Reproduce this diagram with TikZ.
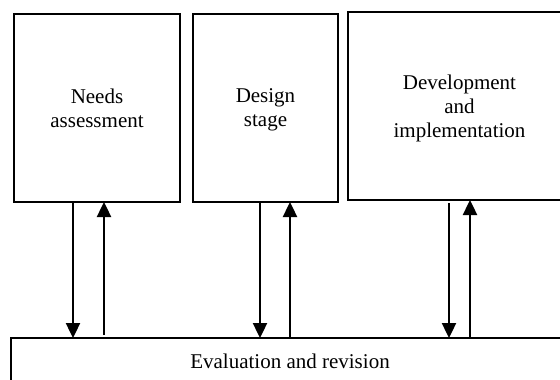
\documentclass[tikz,border=0pt]{standalone}
\usepackage{fontspec}
\setmainfont{Liberation Serif}
\usetikzlibrary{arrows.meta}
\begin{document}
\begin{tikzpicture}[x=1pt,y=-1pt,
  stagebox/.style={draw, line width=1.6pt, anchor=north west, inner sep=0pt, outer sep=0pt,
    align=center, text depth=0pt, font=\fontsize{21}{24}\selectfont},
  arr/.style={line width=2.4pt, -{Triangle[length=15pt,width=14pt]}}]
\useasboundingbox (0,0) rectangle (560,380);
\clip (0,0) rectangle (560,380);
\node[stagebox, minimum width=166pt, minimum height=188pt] (needs) at (14,14) {Needs\\assessment};
\node[stagebox, minimum width=145pt, minimum height=188pt] (design) at (193,14) {Design\\stage};
\node[stagebox, minimum width=223pt, minimum height=188pt] (dev) at (348,12) {Development\\and\\implementation};
\node[stagebox, minimum width=558pt, minimum height=46pt] (eval) at (11,338) {Evaluation and revision};
% start points on the upper boxes
\coordinate (n1) at ([xshift=59pt]needs.south west);
\coordinate (n2) at ([xshift=90pt]needs.south west);
\coordinate (d1) at ([xshift=67pt]design.south west);
\coordinate (d2) at ([xshift=97pt]design.south west);
\coordinate (v1) at ([xshift=101pt]dev.south west);
\coordinate (v2) at ([xshift=122pt]dev.south west);
% arrows
\draw[arr] (n1) -- (n1 |- eval.north);
\draw[arr] ([yshift=3pt]n2 |- eval.north) -- (n2);
\draw[arr] (d1) -- (d1 |- eval.north);
\draw[arr] (d2 |- eval.north) -- (d2);
\draw[arr] ([yshift=-3pt]v1) -- (v1 |- eval.north);
\draw[arr] (v2 |- eval.north) -- (v2);
\end{tikzpicture}
\end{document}
